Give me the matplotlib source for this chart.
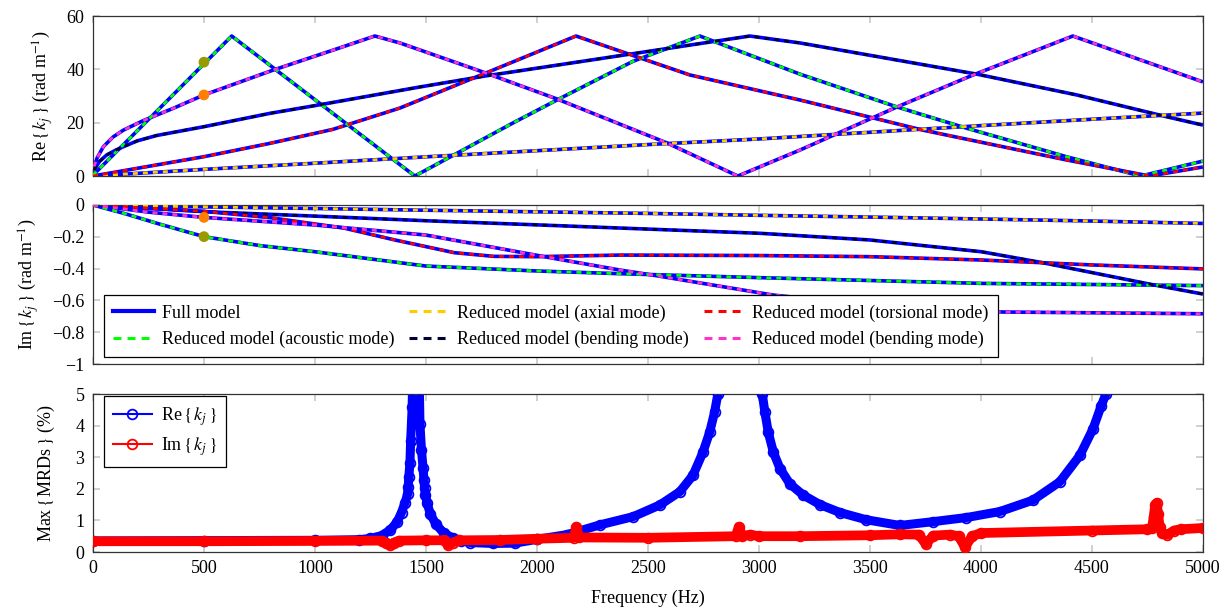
import matplotlib.pyplot as plt
from matplotlib.lines import Line2D

# Re{k_j} (rad/m) per mode
acoustic_re_f = [0, 625, 1450, 1608, 1892, 2090, 2432, 2734, 3185, 3622, 3937, 4387, 4720, 5000]
acoustic_re = [0.3, 52.5, 0, 7.1, 19.9, 28.5, 43.0, 52.5, 38.2, 25.9, 17.9, 7.2, 0, 5.6]
axial_re_f = [0, 500, 1000, 1500, 2000, 2500, 3000, 3500, 4000, 4500, 5000]
axial_re = [0, 2.5, 4.8, 7.2, 9.5, 11.8, 13.9, 16.4, 18.9, 21.3, 23.6]
bend_a_re_f = [5, 30, 62, 100, 137, 200, 287, 500, 797, 1000, 1473, 1766, 2180, 2689, 2959, 3185, 3982,
               4432, 4838, 5000]
bend_a_re = [2.2, 5.5, 7.9, 9.6, 11.0, 13.2, 15.2, 18.5, 23.5, 26.4, 33.4, 37.5, 42.7, 49.1, 52.5, 49.9, 38.2,
             30.4, 22.2, 19.1]
torsion_re_f = [0, 500, 797, 1081, 1383, 1766, 2176, 2689, 3185, 3739, 4387, 4760, 5000]
torsion_re = [0, 7.25, 12.25, 17.5, 25.5, 38.5, 52.5, 37.9, 28.5, 17.2, 6.0, 0, 3.4]
bend_b_re_f = [5, 20, 47, 90, 137, 227, 362, 500, 811, 1081, 1270, 1383, 1757, 2090, 2586, 2905, 3185, 3622,
               3965, 4414, 5000]
bend_b_re = [3.6, 7.0, 11.0, 14.6, 17.2, 20.8, 25.4, 30.4, 39.7, 47.2, 52.5, 49.9, 39.0, 28.9, 12.4, 0, 9.75, 25.9,
             37.9, 52.5, 35.3]

# Im{k_j} (rad/m) per mode
acoustic_im_f = [0, 150, 300, 500, 750, 1000, 1500, 2000, 2374, 3004, 4002, 5000]
acoustic_im = [0, -0.057, -0.12, -0.199, -0.255, -0.294, -0.384, -0.415, -0.432, -0.457, -0.493, -0.507]
axial_im_f = [0, 500, 1000, 1500, 2000, 2500, 3000, 3500, 4000, 4500, 5000]
axial_im = [0, -0.012, -0.022, -0.033, -0.043, -0.053, -0.065, -0.076, -0.088, -0.101, -0.116]
bend_a_im_f = [0, 500, 1000, 1500, 2000, 2374, 3004, 3500, 4002, 4278, 4500, 4780, 5000]
bend_a_im = [0, -0.042, -0.07, -0.099, -0.125, -0.145, -0.178, -0.220, -0.294, -0.363, -0.425, -0.503, -0.560]
torsion_im_f = [0, 250, 500, 800, 1130, 1360, 1628, 1805, 2000, 2374, 3004, 3500, 4002, 4500, 5000]
torsion_im = [0, -0.02, -0.04, -0.08, -0.145, -0.22, -0.30, -0.323, -0.325, -0.315, -0.318, -0.325, -0.346,
              -0.377, -0.402]
bend_b_im_f = [0, 250, 500, 1000, 1500, 2073, 2374, 2518, 3063, 3500, 3800, 4099, 5000]
bend_b_im = [0, -0.045, -0.078, -0.126, -0.189, -0.335, -0.409, -0.44, -0.566, -0.63, -0.66, -0.673, -0.684]

# highlighted points at 500 Hz (acoustic, bending)
dot_f = [500, 500]
dot_re = [42.7, 30.4]
dot_im = [-0.199, -0.078]
dot_colors = ['#999900', '#ff8000']

# max relative differences (%)
mrd_re_f = [0, 500, 1000, 1200, 1250, 1300, 1340, 1370, 1390, 1405, 1417, 1420, 1423, 1428, 1431, 1438,
            1455, 1473, 1480, 1487, 1491, 1494, 1498, 1505, 1520, 1545, 1580, 1620, 1660, 1700, 1800, 1900,
            2000, 2135, 2284, 2434, 2554, 2644, 2703, 2748, 2778, 2800, 2815, 2910, 3015, 3027, 3042, 3065,
            3095, 3140, 3200, 3275, 3365, 3484, 3635, 3784, 3934, 4085, 4234, 4355, 4446, 4505, 4542, 4563, 4600]
mrd_re = [0.35, 0.36, 0.37, 0.39, 0.43, 0.52, 0.7, 0.95, 1.25, 1.55, 1.82, 2.06, 2.38, 2.83, 3.5, 4.6,
          12.0, 4.05, 3.22, 2.66, 2.27, 2.01, 1.8, 1.55, 1.2, 0.88, 0.6, 0.45, 0.36, 0.3, 0.27, 0.28,
          0.4, 0.55, 0.86, 1.12, 1.49, 1.91, 2.43, 3.16, 3.79, 4.42, 5.0, 12.0, 5.0, 4.42, 3.79, 3.16,
          2.64, 2.15, 1.8, 1.5, 1.25, 1.02, 0.84, 0.96, 1.09, 1.28, 1.64, 2.22, 3.06, 3.9, 4.63, 5.0, 12.0]
mrd_im_f = [0, 500, 1000, 1300, 1320, 1338, 1356, 1380, 1500, 1580, 1600, 1620, 1650, 1833, 2000,
            2165, 2178, 2190, 2500, 2895, 2910, 2925, 2960, 3000, 3185, 3500, 3635, 3720, 3752, 3785,
            3860, 3900, 3928, 3960, 4000, 4500, 4750, 4770, 4778, 4785, 4792, 4798, 4805, 4815, 4840,
            4870, 4900, 5000]
mrd_im = [0.34, 0.34, 0.35, 0.36, 0.3, 0.22, 0.3, 0.36, 0.37, 0.37, 0.22, 0.3, 0.37, 0.38, 0.42,
          0.45, 0.8, 0.46, 0.45, 0.5, 0.8, 0.5, 0.55, 0.5, 0.5, 0.53, 0.56, 0.55, 0.25, 0.52,
          0.55, 0.5, 0.15, 0.5, 0.6, 0.68, 0.72, 0.75, 1.1, 1.5, 1.55, 1.2, 0.8, 0.6, 0.55,
          0.68, 0.72, 0.76]

FULL = '#0000ff'
C_ACOUSTIC = '#00ff00'
C_AXIAL = '#ffcc00'
C_BEND_A = '#000033'
C_TORSION = '#ff0000'
C_BEND_B = '#ff33cc'
FS = 13
DASH = (0, (1.8, 1.8))

plt.rcParams['font.family'] = ['Liberation Serif', 'DejaVu Serif']
plt.rcParams['mathtext.fontset'] = 'stix'


def style_axes(ax, xlabels=False):
    ax.set_xlim(0, 5000)
    ax.set_xticks(range(0, 5001, 500))
    ax.tick_params(direction='in', which='both', top=True, right=True, length=5,
                   width=1.2, color='#c8c8c8', labelsize=FS, pad=6)
    if not xlabels:
        ax.tick_params(labelbottom=False)
    for s in ax.spines.values():
        s.set_color('#333333')
        s.set_linewidth(0.9)


def draw_modes(ax, curves):
    """Full model in blue underneath, reduced models dashed on top."""
    for f, v, c in curves:
        ax.plot(f, v, color=FULL, lw=2.6, solid_capstyle='butt', zorder=2)
    for f, v, c in curves:
        ax.plot(f, v, color=c, lw=2.0, ls=DASH, zorder=3)


def main():
    fig = plt.figure(figsize=(12.31, 6.07), dpi=100)
    ax_re = fig.add_axes([0.0755, 0.710, 0.9017, 0.2636])
    ax_im = fig.add_axes([0.0755, 0.4003, 0.9017, 0.262])
    ax_mrd = fig.add_axes([0.0755, 0.0906, 0.9017, 0.2603])

    # real part
    draw_modes(ax_re, [(acoustic_re_f, acoustic_re, C_ACOUSTIC), (axial_re_f, axial_re, C_AXIAL),
                       (bend_a_re_f, bend_a_re, C_BEND_A), (torsion_re_f, torsion_re, C_TORSION),
                       (bend_b_re_f, bend_b_re, C_BEND_B)])
    ax_re.scatter(dot_f, dot_re, s=60, c=dot_colors, zorder=5, linewidths=0)
    style_axes(ax_re)
    ax_re.set_ylim(0, 60)
    ax_re.set_yticks([0, 20, 40, 60])
    ax_re.set_ylabel(r'Re$\,\{\,k_j\,\}$ (rad m$^{-1}$)', fontsize=FS)
    ax_re.yaxis.set_label_coords(-0.034, 0.5)

    # imaginary part
    draw_modes(ax_im, [(acoustic_im_f, acoustic_im, C_ACOUSTIC), (axial_im_f, axial_im, C_AXIAL),
                       (bend_a_im_f, bend_a_im, C_BEND_A), (torsion_im_f, torsion_im, C_TORSION),
                       (bend_b_im_f, bend_b_im, C_BEND_B)])
    ax_im.scatter(dot_f, dot_im, s=60, c=dot_colors, zorder=5, linewidths=0)
    style_axes(ax_im)
    ax_im.set_ylim(-1, 0)
    ax_im.set_yticks([0, -0.2, -0.4, -0.6, -0.8, -1],
                     ['0', '\u22120.2', '\u22120.4', '\u22120.6', '\u22120.8', '\u22121'])
    ax_im.set_ylabel(r'Im$\,\{\,k_j\,\}$ (rad m$^{-1}$)', fontsize=FS)
    ax_im.yaxis.set_label_coords(-0.047, 0.5)

    handles = [Line2D([], [], color=FULL, lw=3)]
    for c in [C_ACOUSTIC, C_AXIAL, C_BEND_A, C_TORSION, C_BEND_B]:
        handles.append(Line2D([], [], color=c, lw=2.2, ls=(0, (2.6, 2.0))))
    labels = ['Full model', 'Reduced model (acoustic mode)', 'Reduced model (axial mode)',
              'Reduced model (bending mode)', 'Reduced model (torsional mode)',
              'Reduced model (bending mode)']
    leg = ax_im.legend(handles, labels, ncol=3, loc='lower left', bbox_to_anchor=(0.0099, 0.044),
                       borderaxespad=0, fancybox=False, edgecolor='black', framealpha=1, fontsize=FS,
                       handlelength=2.3, handletextpad=0.4, columnspacing=0.8,
                       borderpad=0.5, labelspacing=0.5)
    leg.get_frame().set_linewidth(0.9)

    # max relative differences
    ax_mrd.plot(mrd_re_f, mrd_re, color=FULL, lw=6.5, solid_joinstyle='round', zorder=2)
    ax_mrd.plot(mrd_re_f, mrd_re, color=FULL, lw=1.2, marker='o', ms=7, mfc='none', mew=1.3, zorder=3)
    ax_mrd.plot(mrd_im_f, mrd_im, color='#ff0000', lw=7, solid_joinstyle='round', zorder=4)
    ax_mrd.plot(mrd_im_f, mrd_im, color='#ff0000', lw=1.2, marker='o', ms=7, mfc='none', mew=1.3, zorder=5)
    style_axes(ax_mrd, xlabels=True)
    ax_mrd.set_ylim(0, 5)
    ax_mrd.set_yticks(range(6))
    ax_mrd.set_ylabel(r'Max$\,\{\,$MRDs$\,\}$ (%)', fontsize=FS)
    ax_mrd.yaxis.set_label_coords(-0.032, 0.5)
    ax_mrd.set_xlabel('Frequency (Hz)', fontsize=FS, labelpad=9)

    h2 = [Line2D([], [], color=FULL, lw=1.5, marker='o', ms=7, mfc='none', mew=1.3),
          Line2D([], [], color='#ff0000', lw=1.5, marker='o', ms=7, mfc='none', mew=1.3)]
    leg2 = ax_mrd.legend(h2, [r'Re$\,\{\,k_j\,\}$', r'Im$\,\{\,k_j\,\}$'], loc='upper left',
                         bbox_to_anchor=(0.0099, 0.987), borderaxespad=0, fancybox=False,
                         edgecolor='black', framealpha=1, fontsize=FS, handlelength=2.15,
                         handletextpad=0.5, borderpad=0.5, labelspacing=0.4)
    leg2.get_frame().set_linewidth(0.9)

    fig.savefig('out.png', dpi=100)


if __name__ == "__main__":
    main()
